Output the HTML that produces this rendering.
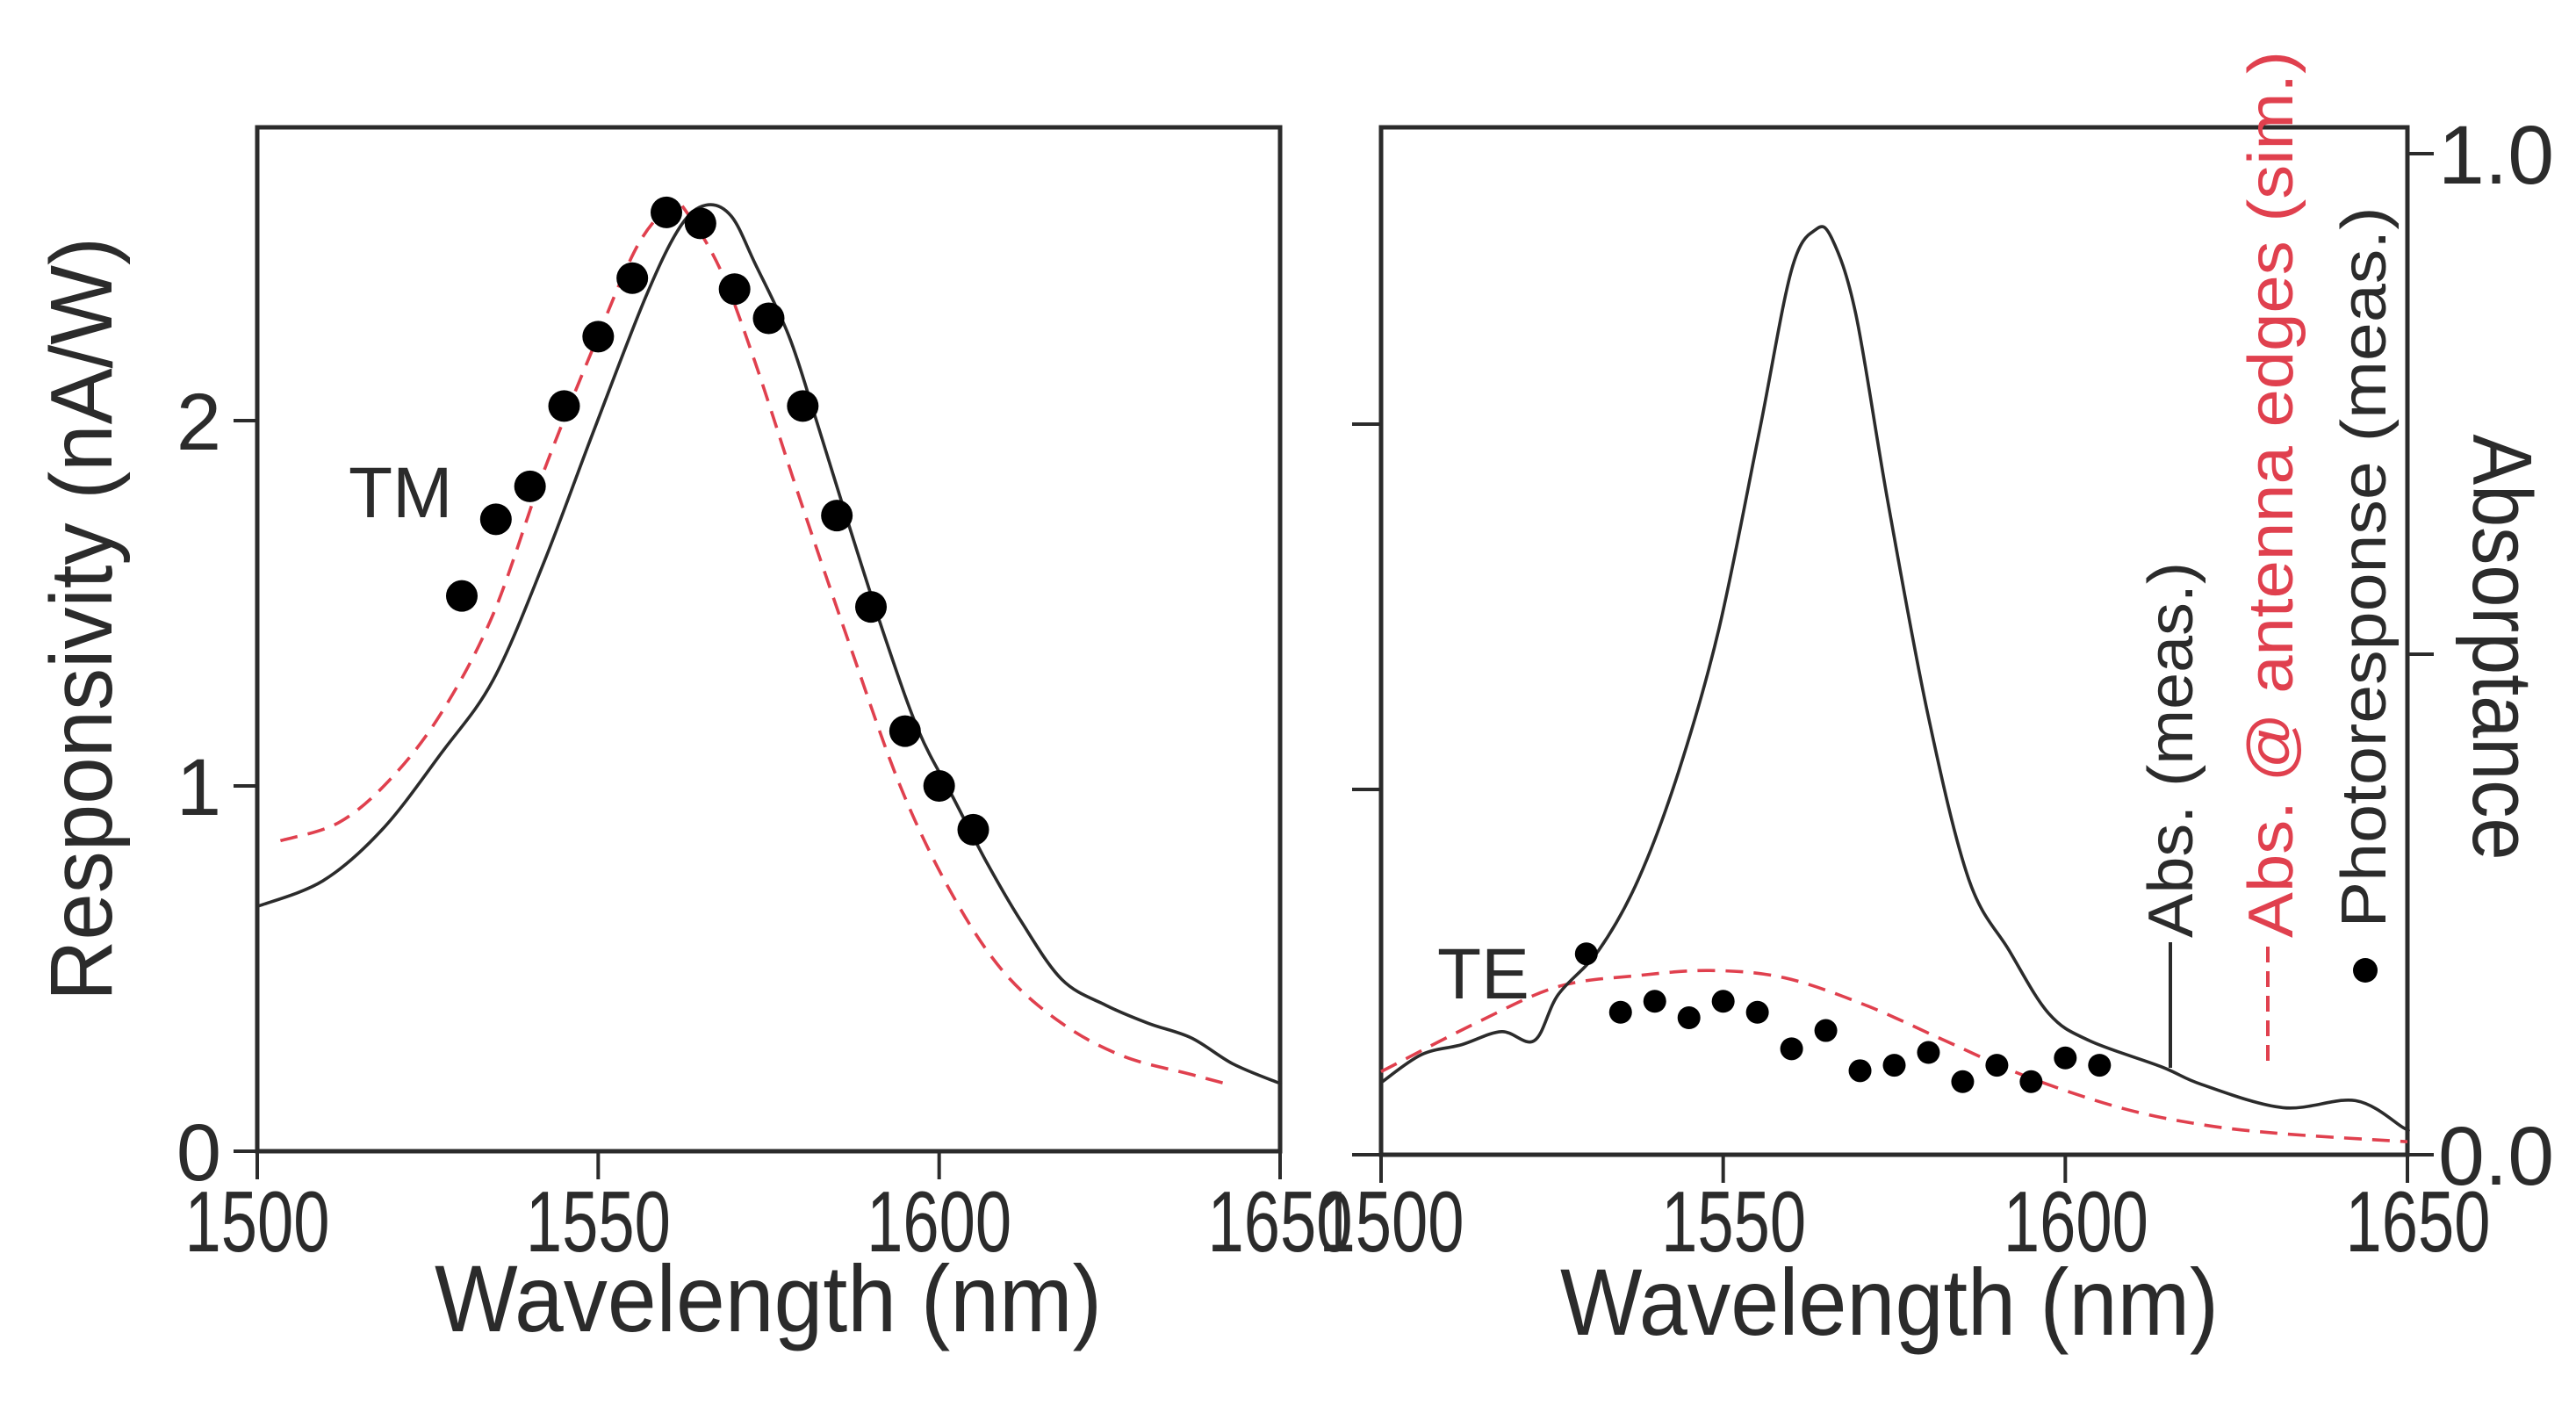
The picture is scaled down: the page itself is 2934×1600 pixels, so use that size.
<!DOCTYPE html>
<html><head><meta charset="utf-8"><style>
html,body{margin:0;padding:0;background:#fff;}
svg{display:block;font-family:"Liberation Sans",sans-serif;}
</style></head><body>
<svg id="chart" width="2934" height="1600" viewBox="0 0 2934 1600" xmlns="http://www.w3.org/2000/svg">
<g id="layer"></g>
</svg>
<script>
// ---- data ----
const xTicks = [1500, 1550, 1600, 1650];
const leftYTicks = [0, 1, 2];
const rightYTicks = [0.0, 0.5, 1.0];
const rightYTickLabels = ["0.0", "", "1.0"];
// TM panel
const tmDotWl = [1530,1535,1540,1545,1550,1555,1560,1565,1570,1575,1580,1585,1590,1595,1600,1605];
const tmDotVal = [1.52,1.73,1.82,2.04,2.23,2.39,2.57,2.54,2.36,2.28,2.04,1.74,1.49,1.15,1.00,0.88];
const tmMeasWl = [1500,1509.6,1518.3,1527,1534.6,1542,1549.5,1557,1562,1565.8,1569.5,1573,1578,1582,1587,1592,1597,1602,1607,1612,1618,1624.4,1630.7,1637,1643,1649.4,1650];
const tmMeasVal = [0.67,0.74,0.88,1.09,1.29,1.61,1.98,2.34,2.53,2.59,2.56,2.43,2.23,2.0,1.70,1.41,1.15,0.97,0.79,0.63,0.47,0.40,0.35,0.31,0.24,0.19,0.19];
const tmSimWl = [1503.4,1512,1519.6,1527,1534.6,1542,1549.5,1555.8,1560.8,1563,1568,1573,1579.5,1587,1594.5,1602,1609.5,1618,1627,1637,1643];
const tmSimVal = [0.85,0.90,1.02,1.20,1.47,1.86,2.21,2.48,2.59,2.57,2.41,2.16,1.79,1.38,0.99,0.70,0.49,0.35,0.26,0.21,0.18];
// TE panel
const teDotWl = [1530,1535,1540,1545,1550,1555,1560,1565,1570,1575,1580,1585,1590,1595,1600,1605];
const teDotVal = [0.55,0.39,0.42,0.375,0.42,0.39,0.29,0.34,0.23,0.245,0.28,0.20,0.245,0.20,0.265,0.245];
const teAbsWl = [1500,1505.9,1511.8,1517.6,1522.4,1525.9,1531.8,1537.6,1543.5,1549.4,1555.3,1560,1563.5,1565.9,1569.4,1574.1,1580,1585.9,1591.8,1597.6,1603.5,1614,1620,1631.8,1642.4,1649.4,1650];
const teAbsVal = [0.072,0.10,0.11,0.123,0.114,0.16,0.204,0.275,0.383,0.526,0.723,0.884,0.924,0.915,0.839,0.651,0.437,0.275,0.204,0.141,0.114,0.088,0.07,0.047,0.054,0.027,0.025];
const teSimWl = [1500,1514,1525.9,1537.6,1548,1558.8,1570.6,1582.4,1594,1608,1620,1631.8,1650];
const teSimVal = [0.083,0.132,0.168,0.179,0.184,0.177,0.150,0.114,0.079,0.047,0.030,0.021,0.013];

// ---- geometry ----
const NS = "http://www.w3.org/2000/svg";
const layer = document.getElementById('layer');
const L = {x0:293, x1:1458, yTop:145, y0:1311, unit:416};
const R = {x0:1573, x1:2742, yTop:145, y0:1315, unit:416, absUnit:1140};
function xL(w){return L.x0 + (w-1500)/150*(L.x1-L.x0);}
function xR(w){return R.x0 + (w-1500)/150*(R.x1-R.x0);}
function yL(v){return L.y0 - v*L.unit;}
function yRresp(v){return R.y0 - v*R.unit;}
function yRabs(v){return R.y0 - v*R.absUnit;}
function mk(tag, attrs){const e=document.createElementNS(NS,tag);for(const k in attrs)e.setAttribute(k,attrs[k]);layer.appendChild(e);return e;}
const INK="#2b2b2b", RED="#e0404e";

function line(x1,y1,x2,y2,w,name){const e=mk('line',{x1:x1,y1:y1,x2:x2,y2:y2,stroke:INK,'stroke-width':w});


return e;}
function text(x,y,s,size,anchor,name,extra){const e=mk('text',Object.assign({x:x,y:y,'font-size':size,'text-anchor':anchor,fill:INK},extra||{}));e.textContent=s;


return e;}
function smoothPath(P){
  let d='M'+P[0][0].toFixed(1)+','+P[0][1].toFixed(1);
  for(let i=0;i<P.length-1;i++){
    const p0=P[Math.max(0,i-1)],p1=P[i],p2=P[i+1],p3=P[Math.min(P.length-1,i+2)];
    const c1x=p1[0]+(p2[0]-p0[0])/6,c1y=p1[1]+(p2[1]-p0[1])/6;
    const c2x=p2[0]-(p3[0]-p1[0])/6,c2y=p2[1]-(p3[1]-p1[1])/6;
    d+=' C'+c1x.toFixed(1)+','+c1y.toFixed(1)+' '+c2x.toFixed(1)+','+c2y.toFixed(1)+' '+p2[0].toFixed(1)+','+p2[1].toFixed(1);
  }
  return d;}
function poly(wls,vals,fx,fy,color,dash,name){
  const P=wls.map((w,i)=>[fx(w),fy(vals[i])]);
  const e=mk('path',{d:smoothPath(P),fill:'none',stroke:color,'stroke-width':3.6,'stroke-linejoin':'round','stroke-linecap':'butt'});
  if(dash)e.setAttribute('stroke-dasharray',dash);
  
  
  return e;}
function dots(wls,vals,fx,fy,r,name){wls.forEach((w,i)=>{const c=mk('circle',{cx:fx(w),cy:fy(vals[i]),r:r,fill:'#000'});


});}

// ---- left panel ----
const fl=mk('rect',{x:L.x0,y:L.yTop,width:L.x1-L.x0,height:L.y0-L.yTop,fill:'none',stroke:INK,'stroke-width':5});


xTicks.forEach(t=>{line(xL(t),L.y0,xL(t),L.y0+32,4,'tm-x-tick');text(xL(t),1425,String(t),98,'middle','tm-x-tick-label',{textLength:165,lengthAdjust:'spacingAndGlyphs'});});
leftYTicks.forEach(t=>{line(L.x0-27,yL(t),L.x0,yL(t),4,'tm-y-tick');text(252,yL(t)+33,String(t),92,'end','tm-y-tick-label');});
text(875,1516,'Wavelength (nm)',108,'middle','tm-x-axis-title',{textLength:760,lengthAdjust:'spacingAndGlyphs'});
text(0,0,'Responsivity (nA/W)',100,'middle','y-axis-title',{transform:'translate(127,705) rotate(-90)',textLength:870,lengthAdjust:'spacingAndGlyphs'});
poly(tmSimWl,tmSimVal,xL,yL,RED,'20 12','tm-sim-abs-line');
poly(tmMeasWl,tmMeasVal,xL,yL,INK,null,'tm-meas-abs-line');
dots(tmDotWl,tmDotVal,xL,yL,18,'tm-photoresponse-dot');
text(397,589,'TM',82,'start','tm-label');

// ---- right panel ----
const fr=mk('rect',{x:R.x0,y:R.yTop,width:R.x1-R.x0,height:R.y0-R.yTop,fill:'none',stroke:INK,'stroke-width':5});


line(1540,R.y0,R.x0,R.y0,4,'te-axis-extension');
xTicks.forEach(t=>{line(xR(t),R.y0,xR(t),R.y0+32,4,'te-x-tick');text(xR(t)+12,1425,String(t),98,'middle','te-x-tick-label',{textLength:165,lengthAdjust:'spacingAndGlyphs'});});
[1,2].forEach(t=>{line(1540,yRresp(t),R.x0,yRresp(t),4,'te-left-y-tick');});
rightYTicks.forEach((t,i)=>{line(R.x1,yRabs(t),2772,yRabs(t),4,'te-right-y-tick');if(rightYTickLabels[i])text(2777,yRabs(t)+34,rightYTickLabels[i],95,'start','absorptance-tick-label');});
text(2152,1520,'Wavelength (nm)',108,'middle','te-x-axis-title',{textLength:750,lengthAdjust:'spacingAndGlyphs'});
text(0,0,'Absorptance',96,'middle','right-y-axis-title',{transform:'translate(2817,737) rotate(90)',textLength:485,lengthAdjust:'spacingAndGlyphs'});
poly(teSimWl,teSimVal,xR,yRabs,RED,'20 12','te-sim-abs-line');
poly(teAbsWl,teAbsVal,xR,yRabs,INK,null,'te-meas-abs-line');
dots(teDotWl,teDotVal,xR,yRresp,13,'te-photoresponse-dot');
text(1637,1137,'TE',82,'start','te-label');

// ---- legend ----
text(0,0,'Abs. (meas.)',72,'middle','legend-abs-meas-label',{transform:'translate(2497,854) rotate(-90)',textLength:428,lengthAdjust:'spacingAndGlyphs'});
line(2472,1073,2472,1216,4,'legend-abs-meas-line');
text(0,0,'Abs. @ antenna edges (sim.)',72,'middle','legend-abs-sim-label',{transform:'translate(2611,563) rotate(-90)',textLength:1010,lengthAdjust:'spacingAndGlyphs',fill:RED});
const ld=mk('line',{x1:2583,y1:1078,x2:2583,y2:1216,stroke:RED,'stroke-width':4,'stroke-dasharray':'18 10'});


text(0,0,'Photoresponse (meas.)',72,'middle','legend-photoresponse-label',{transform:'translate(2717,646) rotate(-90)',textLength:821,lengthAdjust:'spacingAndGlyphs'});
const lc=mk('circle',{cx:2694,cy:1105,r:14,fill:'#000'});


</script>
</body></html>
